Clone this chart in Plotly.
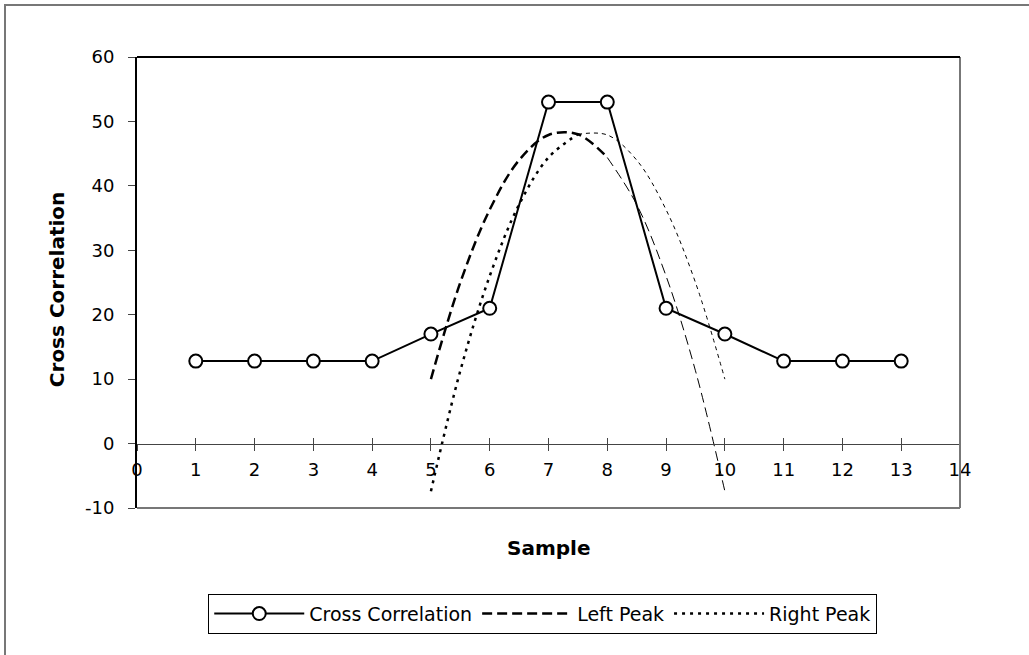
import plotly.graph_objects as go

# Sample axis and the measured cross correlation
samples = list(range(1, 14))
cross_corr = [12.8, 12.8, 12.8, 12.8, 17.0, 21.0, 53.0, 53.0, 21.0, 17.0, 12.8, 12.8, 12.8]

# Fitted peaks at half-sample steps
peak_x = [5, 5.5, 6, 6.5, 7, 7.5, 8, 8.5, 9, 9.5, 10]
left_peak = [10.0, 25.0, 36.3, 44.0, 47.9, 48.0, 44.4, 37.1, 26.0, 11.3, -7.4]
right_peak = [-7.4, 11.3, 26.0, 37.1, 44.4, 48.0, 47.9, 44.0, 36.3, 25.0, 10.0]

x_ticks = list(range(0, 15))
y_ticks = [-10, 0, 10, 20, 30, 40, 50, 60]
y_tick_labels = ["-10", "0", "10", "20", "30", "40", "50", "60"]

FONT = "DejaVu Sans, Arial, sans-serif"

fig = go.Figure()

fig.add_trace(go.Scatter(
    x=samples, y=cross_corr, name="Cross Correlation", mode="lines+markers",
    line=dict(color="black", width=2),
    marker=dict(symbol="circle", size=13, color="white", line=dict(color="black", width=2)),
))

# Left peak: heavier dashes on the rising side, lighter past the top (as drawn)
fig.add_trace(go.Scatter(
    x=peak_x[:7], y=left_peak[:7], name="Left Peak", mode="lines",
    line=dict(color="black", width=2.5, dash="10px,5px", shape="spline"),
))
fig.add_trace(go.Scatter(
    x=peak_x[6:], y=left_peak[6:], showlegend=False, mode="lines",
    line=dict(color="black", width=1, dash="10px,5px", shape="spline"),
))

# Right peak: heavy dots on the rising side, lighter on the falling side
fig.add_trace(go.Scatter(
    x=peak_x[:6], y=right_peak[:6], name="Right Peak", mode="lines",
    line=dict(color="black", width=2.5, dash="3px,5px", shape="spline"),
))
fig.add_trace(go.Scatter(
    x=peak_x[5:], y=right_peak[5:], showlegend=False, mode="lines",
    line=dict(color="black", width=1, dash="4px,4px", shape="spline"),
))

tick_font = dict(family=FONT, size=18, color="black")
title_font = dict(family=FONT, size=20, color="black")

fig.update_layout(
    width=1029, height=655,
    margin=dict(l=137, r=69, t=57, b=147),
    paper_bgcolor="white", plot_bgcolor="white",
    font=tick_font,
    showlegend=True,
    legend=dict(
        orientation="h", x=0.493, xanchor="center", y=-0.19, yanchor="top",
        bordercolor="black", borderwidth=1, bgcolor="white",
        font=dict(family=FONT, size=19, color="black"),
        itemwidth=90,
    ),
    xaxis=dict(
        range=[0, 14], tickvals=x_ticks, showgrid=False, zeroline=False,
        anchor="free", position=1 / 7, showline=True, linecolor="#444", linewidth=1,
        ticks="outside", ticklen=6, tickcolor="#444", tickfont=tick_font,
        ticklabelstandoff=4,
    ),
    xaxis2=dict(
        range=[0, 14], tickvals=x_ticks, showgrid=False, zeroline=False,
        overlaying="x", anchor="free", position=1 / 7, showticklabels=False,
        ticks="inside", ticklen=6, tickcolor="#444", showline=False,
    ),
    yaxis=dict(
        range=[-10, 60], tickvals=y_ticks, ticktext=y_tick_labels,
        showgrid=False, zeroline=False,
        showline=True, linecolor="black", linewidth=2,
        ticks="outside", ticklen=7, tickcolor="#444", tickfont=tick_font,
        ticklabelstandoff=10,
    ),
    annotations=[
        dict(text="<b>Sample</b>", xref="paper", yref="paper", x=0.5, y=-0.089,
             xanchor="center", yanchor="middle", showarrow=False, font=title_font),
        dict(text="<b>Cross Correlation</b>", xref="paper", yref="paper", x=-0.098, y=0.486,
             textangle=-90, xanchor="center", yanchor="middle", showarrow=False,
             font=title_font),
    ],
    shapes=[
        # plot area frame: gray right/bottom, black top
        dict(type="line", xref="paper", yref="paper", x0=1, x1=1, y0=0, y1=1,
             line=dict(color="#777", width=2)),
        dict(type="line", xref="paper", yref="paper", x0=0, x1=1, y0=0, y1=0,
             line=dict(color="#777", width=2)),
        dict(type="line", xref="paper", yref="paper", x0=0, x1=1, y0=1, y1=1,
             line=dict(color="black", width=2)),
        # outer chart border (right and bottom edges run off the picture)
        dict(type="rect", xref="paper", yref="paper",
             x0=-132 / 823, x1=1.12, y0=-170 / 451, y1=1 + 52 / 451,
             line=dict(color="#777", width=2)),
    ],
)

# invisible trace so the crossing tick marks on xaxis2 render
fig.add_trace(go.Scatter(x=[0], y=[0], xaxis="x2", mode="markers",
                         marker=dict(opacity=0), showlegend=False, hoverinfo="skip"))

# drop the browser's default body margin so the figure sits at the page corner
fig.write_html("out.html", config={"displayModeBar": False},
               post_script="document.body.style.margin = '0';")
